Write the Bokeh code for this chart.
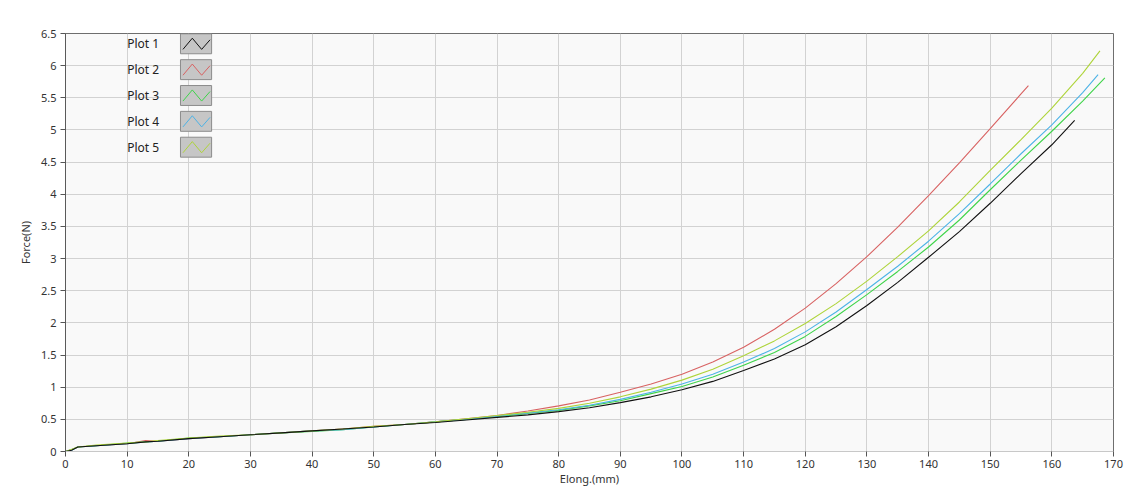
from bokeh.plotting import figure
from bokeh.models import Range1d, FixedTicker, Label
from bokeh.embed import file_html
from bokeh.resources import INLINE

# ---------------- data ----------------
series_names = ["Plot 1", "Plot 2", "Plot 3", "Plot 4", "Plot 5"]
series_colors = ["#111111", "#d86262", "#3fd44a", "#4db3e6", "#aed43a"]

elong_base = [0, 1, 2, 5, 10, 13, 15, 20, 25, 30, 35, 40, 45, 50, 55, 60, 65, 70,
              75, 80, 85, 90, 95, 100, 105, 110, 115, 120, 125, 130, 135, 140,
              145, 150, 155]

elong_1 = elong_base + [160, 163.7]
force_1 = [0, 0.02, 0.07, 0.09, 0.12, 0.15, 0.16, 0.20, 0.23, 0.26, 0.29, 0.32,
           0.35, 0.38, 0.42, 0.45, 0.49, 0.53, 0.57, 0.62, 0.68, 0.76, 0.85, 0.96,
           1.09, 1.26, 1.44, 1.66, 1.94, 2.27, 2.63, 3.02, 3.42, 3.86, 4.32, 4.77,
           5.15]

elong_2 = elong_base + [156.2]
force_2 = [0, 0.03, 0.07, 0.09, 0.12, 0.17, 0.16, 0.20, 0.23, 0.26, 0.29, 0.32,
           0.35, 0.39, 0.42, 0.46, 0.51, 0.56, 0.63, 0.71, 0.80, 0.92, 1.05, 1.20,
           1.39, 1.62, 1.90, 2.23, 2.61, 3.03, 3.49, 3.98, 4.49, 5.02, 5.56, 5.69]

elong_3 = elong_base + [160, 165, 168.6]
force_3 = [0, 0.03, 0.07, 0.09, 0.13, 0.15, 0.16, 0.21, 0.23, 0.26, 0.29, 0.31,
           0.34, 0.38, 0.42, 0.46, 0.50, 0.54, 0.59, 0.64, 0.71, 0.79, 0.90, 1.01,
           1.16, 1.34, 1.54, 1.79, 2.10, 2.44, 2.80, 3.18, 3.60, 4.07, 4.53, 4.98,
           5.45, 5.81]

elong_4 = elong_base + [160, 165, 167.5]
force_4 = [0, 0.02, 0.07, 0.09, 0.12, 0.15, 0.16, 0.20, 0.23, 0.26, 0.29, 0.32,
           0.34, 0.38, 0.42, 0.46, 0.50, 0.55, 0.60, 0.65, 0.72, 0.81, 0.92, 1.05,
           1.20, 1.39, 1.60, 1.86, 2.17, 2.52, 2.88, 3.27, 3.70, 4.16, 4.63, 5.08,
           5.58, 5.86]

elong_5 = elong_base + [160, 165, 167.8]
force_5 = [0, 0.03, 0.07, 0.10, 0.13, 0.15, 0.17, 0.21, 0.24, 0.26, 0.29, 0.32,
           0.35, 0.39, 0.42, 0.46, 0.51, 0.56, 0.61, 0.67, 0.75, 0.85, 0.97, 1.11,
           1.28, 1.49, 1.72, 1.99, 2.30, 2.65, 3.03, 3.43, 3.88, 4.37, 4.85, 5.34,
           5.88, 6.23]

x_ticks = [0, 10, 20, 30, 40, 50, 60, 70, 80, 90, 100, 110, 120, 130, 140, 150, 160, 170]
y_ticks = [0, 0.5, 1, 1.5, 2, 2.5, 3, 3.5, 4, 4.5, 5, 5.5, 6, 6.5]
y_tick_labels = ["0", "0.5", "1", "1.5", "2", "2.5", "3", "3.5", "4", "4.5", "5", "5.5", "6", "6.5"]

x_label = "Elong.(mm)"
y_label = "Force(N)"

FONT = "Noto Sans"

# ---------------- figure ----------------
p = figure(width=1124, height=490, output_backend="svg", toolbar_location=None,
           x_range=Range1d(0, 170), y_range=Range1d(0, 6.5),
           min_border_left=65, min_border_right=11, min_border_top=33, min_border_bottom=39)
p.background_fill_color = "#f9f9f9"
p.border_fill_color = "white"
p.outline_line_color = "#6e6e6e"
p.outline_line_width = 1

p.xgrid.ticker = FixedTicker(ticks=x_ticks)
p.ygrid.ticker = FixedTicker(ticks=y_ticks)
p.grid.grid_line_color = "#d2d2d2"
p.grid.grid_line_width = 1

p.xaxis.ticker = FixedTicker(ticks=x_ticks)
p.yaxis.ticker = FixedTicker(ticks=y_ticks)
p.yaxis.major_label_overrides = {t: l for t, l in zip(y_ticks, y_tick_labels)}
p.xaxis.major_label_overrides = {t: str(t) for t in x_ticks}

for ax in (p.xaxis[0], p.yaxis[0]):
    ax.major_tick_in = 0
    ax.major_tick_out = 5
    ax.minor_tick_in = 0
    ax.minor_tick_out = 0
    ax.major_tick_line_color = "#555555"
    ax.major_label_text_font = FONT
    ax.major_label_text_font_size = "11px"
    ax.major_label_text_color = "#333333"
    ax.axis_label_text_font = FONT
    ax.axis_label_text_font_size = "11px"
    ax.axis_label_text_font_style = "normal"
    ax.axis_label_text_color = "#333333"

p.xaxis.axis_line_color = "#c8c8c8"
p.yaxis.axis_line_color = "#5a5a5a"
p.xaxis.major_label_standoff = 3
p.yaxis.major_label_standoff = 4
p.xaxis.axis_label = x_label
p.yaxis.axis_label = y_label
p.xaxis.axis_label_standoff = 0
p.yaxis.axis_label_standoff = 5

# ---------------- curves ----------------
elongs = [elong_1, elong_2, elong_3, elong_4, elong_5]
forces = [force_1, force_2, force_3, force_4, force_5]
for i in [1, 2, 3, 4, 0]:
    p.line(elongs[i], forces[i], line_color=series_colors[i], line_width=1.1)

# ---------------- legend (label left, zig-zag swatch right) ----------------
LEG_TEXT_X = 10.0
LEG_BOX_L, LEG_BOX_R = 18.65, 23.7
LEG_TOP = 6.495
LEG_STEP = 0.402
LEG_BOX_H = 0.31
zig_fx = [0.08, 0.38, 0.68, 0.95]
zig_fy = [0.78, 0.22, 0.78, 0.30]

for i, name in enumerate(series_names):
    top = LEG_TOP - i * LEG_STEP
    bottom = top - LEG_BOX_H
    p.quad(left=LEG_BOX_L, right=LEG_BOX_R, top=top, bottom=bottom,
           fill_color="#c6c6c6", line_color="#8c8c8c", line_width=1)
    zx = [LEG_BOX_L + f * (LEG_BOX_R - LEG_BOX_L) for f in zig_fx]
    zy = [top - f * LEG_BOX_H for f in zig_fy]
    p.line(zx, zy, line_color=series_colors[i], line_width=1)
    p.add_layout(Label(x=LEG_TEXT_X, y=(top + bottom) / 2, text=name,
                       text_font=FONT, text_font_size="12px", text_color="#222222",
                       text_baseline="middle", text_align="left"))

open("out.html", "w").write(file_html(p, INLINE))
